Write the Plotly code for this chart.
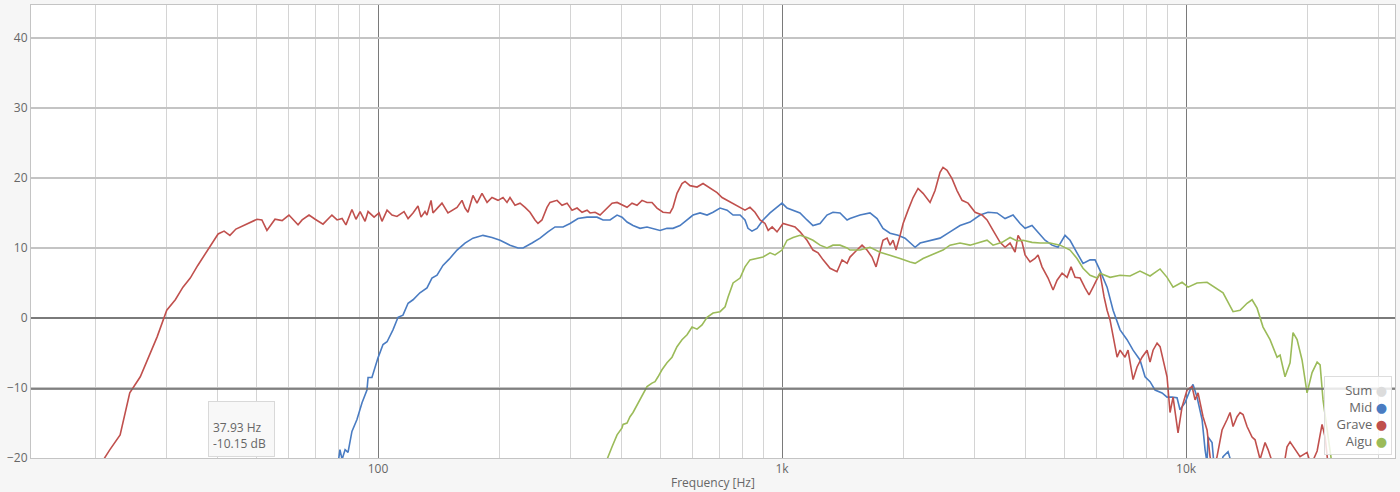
import math
import plotly.graph_objects as go

# ---------------- data ----------------
grave_f = [19.5, 20.9, 21.7, 23.0, 24.3, 25.8, 27.0, 28.4, 30.0, 31.5, 32.9, 34.3, 35.8, 38.0,
           40.2, 41.6, 43.0, 44.5, 50.2, 51.6, 53.1, 55.6, 57.9, 60.2,
           63.4, 64.9, 67.5, 69.9, 73.1, 76.9, 79.2, 81.5, 83.3, 86.2,
           88.2, 90.3, 92.9, 94.5, 97.8, 100.6, 102.3, 105.3, 108.3, 111.4,
           116.0, 118.7, 122.1, 125.6, 127.8, 130.7, 132.2, 135.3, 136.8, 140.8,
           144.0, 149.0, 156.9, 161.4, 164.2, 167.0, 171.8, 175.8, 180.9, 186.2,
           191.5, 198.2, 203.9, 208.6, 212.2, 218.3, 224.7, 231.2, 237.8, 244.7,
           248.9, 254.6, 262.0, 266.5, 277.4, 285.4, 293.7, 302.2, 311.0, 319.9,
           329.2, 334.9, 344.5, 354.5, 364.8, 379.6, 390.6, 401.8, 413.4, 425.3,
           437.6, 450.3, 463.3, 476.6, 490.4, 507.4, 528.1, 537.2, 549.6, 565.5,
           575.4, 592.0, 616.1, 637.5, 663.5, 690.6, 710.6, 731.2, 756.6, 787.4,
           809.7, 833.1, 857.2, 882.1, 907.6, 924.2, 945.4, 971.8, 1006, 1047,
           1077, 1108, 1153, 1193, 1228, 1264, 1315, 1368, 1408, 1449,
           1473, 1533, 1578, 1623, 1670, 1709, 1748, 1778, 1820, 1851,
           1883, 1915, 1960, 1994, 2051, 2111, 2171, 2234, 2325, 2392,
           2461, 2503, 2561, 2635, 2711, 2790, 2887, 3005, 3126, 3217,
           3329, 3465, 3565, 3668, 3774, 3839, 3928, 3995, 4111, 4229,
           4302, 4401, 4555, 4687, 4795, 4934, 5076, 5193, 5313, 5467,
           5623, 5754, 5887, 6057, 6124, 6268, 6376, 6486, 6674, 6751,
           6867, 7063, 7185, 7394, 7564, 7783, 8008, 8146, 8287, 8478,
           8624, 8774, 8974, 9129, 9287, 9554, 9775, 10058, 10349, 10527,
           10708, 11018, 11272, 11467, 11665, 11932, 12278, 12634, 12851, 13072,
           13373, 13605, 13839, 14158, 14569, 14820, 15250, 15690, 15960, 16330,
           16900, 17480, 17780, 18090, 18610, 19150, 19930, 20390, 21110, 21710,
           22090, 22470, 22980]
grave_db = [-23, -20.2, -18.8, -16.7, -10.7, -8.4, -5.6, -2.7, 1.1, 2.6, 4.4, 5.7, 7.5, 9.8,
            12.0, 12.4, 11.8, 12.7, 14.1, 14.0, 12.5, 14.1, 13.9, 14.7,
            13.3, 14.0, 14.7, 14.1, 13.4, 14.7, 14.0, 14.2, 13.3, 15.5,
            14.1, 15.2, 13.8, 15.2, 14.4, 15.0, 13.8, 15.4, 14.7, 14.5,
            15.2, 14.2, 15.0, 16.0, 14.4, 15.2, 14.7, 16.8, 15.0, 15.8,
            16.4, 15.0, 15.8, 16.8, 15.7, 15.1, 17.5, 16.4, 17.8, 16.5,
            17.2, 16.8, 17.2, 16.5, 17.2, 16.1, 16.4, 15.8, 15.1, 14.0,
            13.5, 14.0, 15.8, 16.5, 16.8, 16.1, 16.4, 15.4, 15.7, 15.1,
            15.4, 15.0, 15.1, 14.7, 15.4, 16.4, 16.5, 16.1, 15.8, 16.4,
            16.1, 16.8, 16.5, 16.5, 15.7, 15.1, 15.0, 15.8, 17.8, 19.2,
            19.5, 18.9, 18.7, 19.2, 18.5, 17.9, 17.2, 16.8, 16.4, 15.8,
            15.4, 15.8, 15.1, 14.0, 13.5, 12.5, 13.0, 12.3, 13.5, 13.2,
            13.0, 12.3, 11.1, 9.7, 9.3, 8.3, 7.1, 6.6, 8.3, 7.8,
            8.7, 9.7, 10.4, 9.7, 8.7, 7.3, 9.7, 11.1, 11.4, 10.4,
            11.1, 9.7, 11.8, 13.5, 15.4, 17.2, 18.5, 17.8, 16.5, 18.2,
            20.8, 21.5, 21.1, 19.9, 18.2, 16.8, 16.4, 15.1, 14.7, 14.0,
            12.5, 10.8, 10.1, 10.7, 9.4, 11.8, 10.8, 9.0, 8.0, 8.5,
            9.0, 7.3, 5.7, 4.0, 5.4, 6.4, 5.8, 7.3, 5.8, 5.7,
            4.3, 3.3, 4.4, 5.7, 6.4, 3.0, 1.1, -0.3, -4.1, -5.6,
            -4.6, -5.6, -4.6, -8.8, -7.0, -5.6, -4.6, -6.3, -4.6, -3.6,
            -4.1, -6.0, -8.4, -13.5, -11.3, -16.4, -12.7, -10.3, -9.8, -11.7,
            -10.7, -14.1, -16.0, -19.8, -22.0, -19.8, -16.0, -14.5, -13.5, -15.5,
            -14.1, -13.5, -13.8, -15.5, -17.0, -17.4, -20.2, -17.8, -18.8, -20.5,
            -22.0, -21.0, -18.4, -17.7, -18.8, -19.8, -19.2, -21.0, -19.0, -15.2,
            -17.0, -21.0, -23.0]

mid_f = [78.7, 79.6, 80.5, 81.5, 82.9, 84.3, 86.2, 88.7, 91.3, 93.9,
         94.5, 96.6, 98.3, 100.0, 102.9, 105.3, 108.9, 112.1, 115.3, 118.7,
         122.1, 127.0, 132.2, 136.0, 140.0, 144.8, 150.0, 156.9, 164.2, 171.8,
         181.9, 191.5, 200.5, 212.2, 222.2, 228.6, 240.6, 251.8, 263.4, 274.3,
         287.1, 298.8, 312.6, 329.2, 348.4, 360.6, 375.3, 390.6, 401.8, 413.4,
         427.8, 445.2, 463.3, 479.3, 498.9, 519.1, 537.2, 559.1, 582.1, 602.3,
         626.7, 652.3, 675.0, 702.5, 731.2, 756.6, 787.4, 809.7, 823.6, 842.6,
         867.0, 897.4, 933.9, 971.8, 1000, 1029, 1065, 1108, 1153, 1193,
         1242, 1292, 1337, 1392, 1449, 1473, 1560, 1651, 1719, 1778,
         1851, 1937, 2016, 2075, 2135, 2197, 2325, 2461, 2605, 2758,
         2920, 3092, 3236, 3406, 3565, 3731, 3883, 3995, 4157, 4302,
         4477, 4660, 4821, 5018, 5163, 5372, 5559, 5787, 5954, 6124,
         6376, 6598, 6867, 7145, 7394, 7692, 7917, 8146, 8381, 8721,
         8974, 9234, 9500, 9663, 9943, 10230, 10406, 10646, 10956, 11145,
         11272, 11336, 11598, 11730, 12140, 12348, 12706, 13000, 13605]
mid_db = [-23, -20.7, -18.8, -20.2, -18.8, -19.2, -16.2, -14.5, -12.1, -10.3,
          -8.5, -8.5, -7.0, -5.7, -3.8, -3.4, -1.7, 0.1, 0.4, 2.1,
          2.6, 3.6, 4.3, 5.7, 6.1, 7.5, 8.4, 9.7, 10.7, 11.4,
          11.8, 11.5, 11.1, 10.4, 10.0, 10.0, 10.7, 11.4, 12.3, 13.0,
          13.0, 13.5, 14.2, 14.4, 14.4, 14.0, 14.0, 14.7, 14.4, 13.7,
          13.2, 12.8, 13.0, 12.8, 12.5, 12.8, 12.8, 13.2, 14.0, 14.7,
          15.0, 14.7, 15.1, 15.7, 15.4, 14.7, 14.7, 14.0, 12.8, 12.4,
          12.8, 14.0, 15.0, 15.8, 16.4, 15.7, 15.4, 15.0, 14.0, 13.2,
          13.5, 14.7, 15.1, 15.0, 14.0, 14.2, 14.7, 15.0, 14.2, 12.8,
          12.1, 11.8, 11.4, 10.7, 10.1, 10.7, 11.1, 11.4, 12.3, 13.2,
          13.7, 14.7, 15.1, 15.0, 14.2, 14.7, 13.5, 12.8, 13.2, 12.3,
          11.1, 10.4, 10.1, 11.8, 11.1, 9.3, 7.8, 8.3, 8.3, 6.8,
          4.4, 1.1, -1.7, -3.1, -4.6, -6.0, -8.4, -9.1, -10.3, -10.7,
          -11.3, -11.3, -11.4, -13.1, -12.1, -10.3, -9.5, -11.3, -14.5, -18.8,
          -20.7, -17.0, -17.8, -21.0, -21.5, -19.8, -19.1, -21.0, -25.0]

aigu_f = [362.6, 368.9, 379.6, 390.6, 401.8, 404.1, 413.4, 420.5, 427.8, 440.3,
          452.9, 463.3, 476.6, 484.9, 493.3, 504.5, 519.1, 534.2, 549.6, 565.5,
          582.1, 598.8, 616.1, 633.9, 652.3, 675.0, 702.5, 722.9, 735.4, 756.6,
          787.4, 809.7, 833.1, 867.0, 897.4, 933.9, 961.0, 1000, 1029, 1065,
          1108, 1153, 1193, 1242, 1292, 1337, 1392, 1449, 1473, 1560,
          1651, 1748, 1851, 1960, 2075, 2135, 2234, 2339, 2503, 2605,
          2758, 2920, 3092, 3217, 3329, 3505, 3668, 3817, 3950, 4157,
          4352, 4608, 4878, 5163, 5372, 5559, 5787, 6023, 6124, 6486,
          6867, 7268, 7692, 8146, 8624, 8974, 9287, 9775, 10116, 10646,
          11272, 11800, 12348, 13072, 13605, 14158, 14569, 14990, 15510, 16140,
          16800, 17090, 17580, 18090, 18400, 18830, 19370, 19930, 20510, 21110,
          21470, 21830, 22340, 22720, 23110]
aigu_db = [-23, -20.2, -18.4, -16.7, -15.7, -15.2, -15.0, -14.1, -13.5, -12.1,
           -10.7, -9.8, -9.3, -9.1, -8.4, -7.4, -6.4, -5.6, -4.1, -3.1,
           -2.4, -1.3, -1.6, -1.0, 0.1, 0.7, 0.9, 1.6, 3.0, 5.0,
           5.7, 7.3, 8.3, 8.5, 8.7, 9.3, 9.0, 9.7, 11.1, 11.5,
           11.8, 11.5, 11.1, 10.4, 10.0, 10.4, 10.4, 10.0, 9.7, 9.7,
           10.1, 9.4, 9.0, 8.5, 8.0, 7.8, 8.5, 9.0, 9.7, 10.4,
           10.7, 10.4, 10.8, 11.1, 10.4, 10.8, 11.5, 11.0, 11.1, 10.8,
           10.7, 10.7, 10.4, 9.7, 8.5, 7.1, 6.1, 5.7, 6.4, 5.8,
           6.1, 6.0, 6.7, 6.0, 7.0, 5.8, 4.4, 5.1, 4.4, 5.0,
           5.1, 4.4, 3.6, 0.9, 1.1, 2.1, 2.6, 1.4, -1.3, -3.1,
           -5.6, -5.3, -8.4, -6.4, -2.1, -3.1, -6.0, -10.7, -7.8, -6.3,
           -6.7, -11.7, -15.5, -18.8, -22.0]

series_names = ["Sum", "Mid", "Grave", "Aigu"]
series_colors = ["#dcdcdc", "#4a7cc2", "#c0504d", "#9bbb59"]

x_tick_vals = [100, 1000, 10000]
x_tick_text = ["100", "1k", "10k"]
x_minor_vals = [20, 30, 40, 50, 60, 70, 80, 90,
                200, 300, 400, 500, 600, 700, 800, 900,
                2000, 3000, 4000, 5000, 6000, 7000, 8000, 9000,
                20000, 30000]
y_tick_vals = [-20, -10, 0, 10, 20, 30, 40]
x_title = "Frequency [Hz]"

cursor_hz = 37.93
cursor_db = -10.15

# ---------------- figure ----------------
fig = go.Figure()
for name, color, fx, fy in [("Mid", series_colors[1], mid_f, mid_db),
                            ("Grave", series_colors[2], grave_f, grave_db),
                            ("Aigu", series_colors[3], aigu_f, aigu_db)]:
    fig.add_trace(go.Scatter(x=fx, y=fy, mode="lines", name=name, hoverinfo="skip",
                             line=dict(color=color, width=1.6), showlegend=False))

font_family = "Open Sans, DejaVu Sans, sans-serif"

fig.update_layout(
    width=1400, height=492,
    margin=dict(l=31, r=5, t=5, b=34, autoexpand=False),
    paper_bgcolor="#f6f6f6",
    plot_bgcolor="#ffffff",
    font=dict(family=font_family, size=12, color="#666666"),
    showlegend=False,
    hovermode=False,
)
fig.update_xaxes(
    type="log",
    range=[math.log10(13.84), math.log10(32900)],
    tickvals=x_tick_vals, ticktext=x_tick_text,
    showgrid=True, gridcolor="#7a7a7a", gridwidth=1,
    minor=dict(tickvals=x_minor_vals, showgrid=True, gridcolor="#d4d4d4", gridwidth=1, ticks=""),
    showline=True, linecolor="#c4c4c4", linewidth=1, mirror=True,
    ticks="", tickfont=dict(size=12, color="#666666"),
    zeroline=False, automargin=False,
)
fig.update_yaxes(
    range=[-20, 44.7],
    tickvals=y_tick_vals,
    showgrid=True, gridcolor="#c4c4c4", gridwidth=1.5,
    zeroline=True, zerolinecolor="#7a7a7a", zerolinewidth=1.5,
    showline=True, linecolor="#c4c4c4", linewidth=1, mirror=True,
    ticks="", tickfont=dict(size=12, color="#666666"),
    automargin=False,
)

# x axis title
fig.add_annotation(x=0.5, y=0, xref="paper", yref="paper", xanchor="center", yanchor="middle",
                   yshift=-24, text=x_title, showarrow=False,
                   font=dict(size=12, color="#666666", family=font_family))

# crosshair
fig.add_shape(type="line", xref="x", yref="paper",
              x0=math.log10(cursor_hz), x1=math.log10(cursor_hz), y0=0, y1=1,
              line=dict(color="#555555", width=1))
fig.add_shape(type="line", xref="paper", yref="y",
              x0=0, x1=1, y0=cursor_db, y1=cursor_db,
              line=dict(color="#6a6a6a", width=1.5))

# soft tooltip shadow
fig.add_shape(type="rect", xref="x", yref="y",
              xsizemode="pixel", ysizemode="pixel",
              xanchor=math.log10(cursor_hz), yanchor=cursor_db,
              x0=3, x1=72, y0=-15, y1=-72,
              fillcolor="rgba(0,0,0,0.07)", line=dict(width=0))

# tooltip
fig.add_annotation(
    x=math.log10(cursor_hz), y=cursor_db, xref="x", yref="y",
    xanchor="left", yanchor="top", yshift=-12, xshift=0,
    text=f"{cursor_hz:.2f} Hz<br>{cursor_db:.2f} dB",
    showarrow=False, align="left", valign="bottom",
    width=57, height=46, borderpad=4,
    bgcolor="#f8f8f8", bordercolor="#d9d9d9", borderwidth=1,
    font=dict(size=12, color="#666666", family=font_family),
)

# legend (labels on the left, dots on the right)
legend_text = "<br>".join(
    f"{n} <span style='color:{c}'>●</span>" for n, c in zip(series_names, series_colors)
)
fig.add_annotation(
    x=1, y=0, xref="paper", yref="paper", xanchor="right", yanchor="bottom",
    xshift=-3, yshift=3,
    text=legend_text, showarrow=False, align="right",
    width=58, borderpad=4,
    bgcolor="rgba(255,255,255,0.82)", bordercolor="#dddddd", borderwidth=1,
    font=dict(size=13, color="#666666", family=font_family),
)

fig.write_html(
    "out.html",
    config={"displayModeBar": False},
    post_script="document.body.style.margin='0';document.body.style.padding='0';"
                "document.body.style.overflow='hidden';",
)
